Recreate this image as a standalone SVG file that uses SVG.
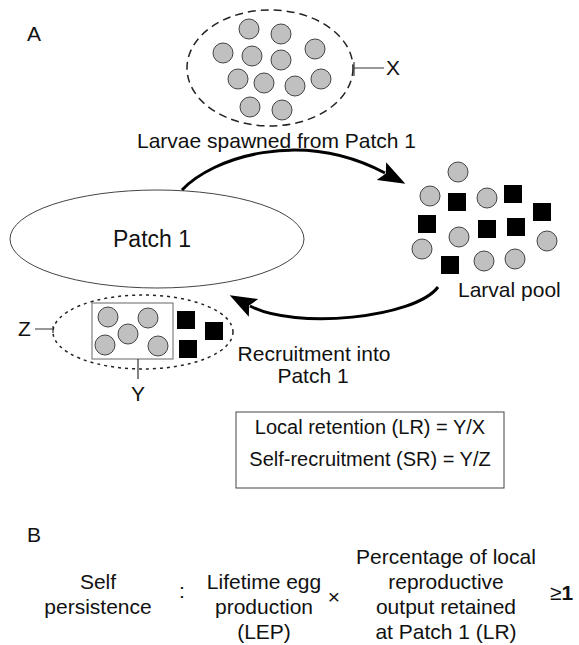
<svg xmlns="http://www.w3.org/2000/svg" width="579" height="645" viewBox="0 0 579 645">
<style>
text{font-family:"Liberation Sans",Arial,sans-serif;fill:#111}
.l{font-size:21px}
.c{fill:#c0c0c0;stroke:#444;stroke-width:1}
.s{fill:#000}
.ln{stroke:#333;stroke-width:1.2;fill:none}
.arr{stroke:#000;stroke-width:3;fill:none}
</style>
<defs>
<marker id="ah" markerUnits="userSpaceOnUse" markerWidth="30" markerHeight="24" refX="4" refY="10" orient="auto">
<path d="M0,0 L27,10 L0,20 L5,10 z" fill="#000"/>
</marker>
</defs>
<rect width="579" height="645" fill="#fff"/>
<text class="l" x="27" y="41">A</text>
<g id="spawned">
<ellipse cx="270" cy="68" rx="83" ry="58" fill="none" stroke="#222" stroke-width="1.5" stroke-dasharray="8 5"/>
<circle class="c" cx="249" cy="29" r="10"/><circle class="c" cx="281" cy="34" r="10"/>
<circle class="c" cx="223" cy="53" r="10"/><circle class="c" cx="252" cy="56" r="10"/>
<circle class="c" cx="281" cy="60" r="10"/><circle class="c" cx="315" cy="49" r="10"/>
<circle class="c" cx="238" cy="79" r="10"/><circle class="c" cx="264" cy="83" r="10"/>
<circle class="c" cx="295" cy="86" r="10"/><circle class="c" cx="321" cy="79" r="10"/>
<circle class="c" cx="250" cy="107" r="10"/><circle class="c" cx="282" cy="110" r="10"/>
<path class="ln" d="M354,62 V76 M354,68 H384"/>
<text class="l" x="386" y="75">X</text>
</g>
<text id="lbl-spawn" class="l" x="137" y="148">Larvae spawned from Patch 1</text>
<g id="patch1">
<ellipse cx="157" cy="239" rx="147" ry="49" fill="#fff" stroke="#444" stroke-width="1"/>
<text x="113" y="247" font-size="23">Patch 1</text>
</g>
<g id="pool">
<circle class="c" cx="458" cy="172" r="10"/><circle class="c" cx="430" cy="196" r="10"/>
<circle class="c" cx="487" cy="198" r="10"/><circle class="c" cx="422" cy="249" r="10"/>
<circle class="c" cx="459" cy="237" r="10"/><circle class="c" cx="484" cy="261" r="10"/>
<circle class="c" cx="515" cy="259" r="10"/><circle class="c" cx="547" cy="241" r="10"/>
<rect class="s" x="448" y="193" width="18" height="18"/><rect class="s" x="504" y="185" width="18" height="18"/>
<rect class="s" x="533" y="203" width="18" height="18"/><rect class="s" x="418" y="215" width="18" height="18"/>
<rect class="s" x="478" y="220" width="18" height="18"/><rect class="s" x="507" y="218" width="18" height="18"/>
<rect class="s" x="441" y="256" width="18" height="18"/>
<text class="l" x="458" y="297">Larval pool</text>
</g>
<g id="recruits">
<ellipse cx="143" cy="332" rx="90" ry="37" fill="none" stroke="#222" stroke-width="1.5" stroke-dasharray="3 4"/>
<rect x="92" y="303" width="81" height="56" fill="none" stroke="#666" stroke-width="1"/>
<circle class="c" cx="108" cy="317" r="10"/><circle class="c" cx="148" cy="318" r="10"/>
<circle class="c" cx="128" cy="334" r="10"/><circle class="c" cx="105" cy="345" r="10"/>
<circle class="c" cx="158" cy="346" r="10"/>
<rect class="s" x="177" y="311" width="18" height="18"/><rect class="s" x="205" y="322" width="18" height="18"/>
<rect class="s" x="179" y="340" width="18" height="18"/>
<path class="ln" d="M35,329 H52 M53,326 V333"/>
<text class="l" x="18" y="336">Z</text>
<path class="ln" d="M138,359 V379"/>
<text class="l" x="138" y="401" text-anchor="middle">Y</text>
</g>
<g id="connectors">
<path class="arr" d="M182,190 C212,158 300,128 385,173" marker-end="url(#ah)"/>
<path class="arr" d="M438,287 C415,318 295,330 250,306" marker-end="url(#ah)"/>
</g>
<text id="lbl-recruit" class="l" text-anchor="middle"><tspan x="314" y="361">Recruitment into</tspan><tspan x="313" y="383">Patch 1</tspan></text>
<g id="formula-box">
<rect x="236" y="412" width="268" height="76" fill="#fff" stroke="#444" stroke-width="1"/>
<text x="370" y="434" font-size="20" text-anchor="middle">Local retention (LR) = Y/X</text>
<text x="370" y="466" font-size="20" text-anchor="middle">Self-recruitment (SR) = Y/Z</text>
</g>
<text class="l" x="27" y="542">B</text>
<g id="equation" class="l" text-anchor="middle">
<text x="98" y="589">Self</text>
<text x="98" y="614">persistence</text>
<text x="182" y="598">:</text>
<text x="264" y="589">Lifetime egg</text>
<text x="264" y="614">production</text>
<text x="264" y="639">(LEP)</text>
<text x="334" y="604">×</text>
<text x="446" y="564">Percentage of local</text>
<text x="446" y="589">reproductive</text>
<text x="446" y="614">output retained</text>
<text x="446" y="639">at Patch 1 (LR)</text>
<text x="550" y="600" text-anchor="start">≥<tspan font-weight="bold">1</tspan></text>
</g>
</svg>
